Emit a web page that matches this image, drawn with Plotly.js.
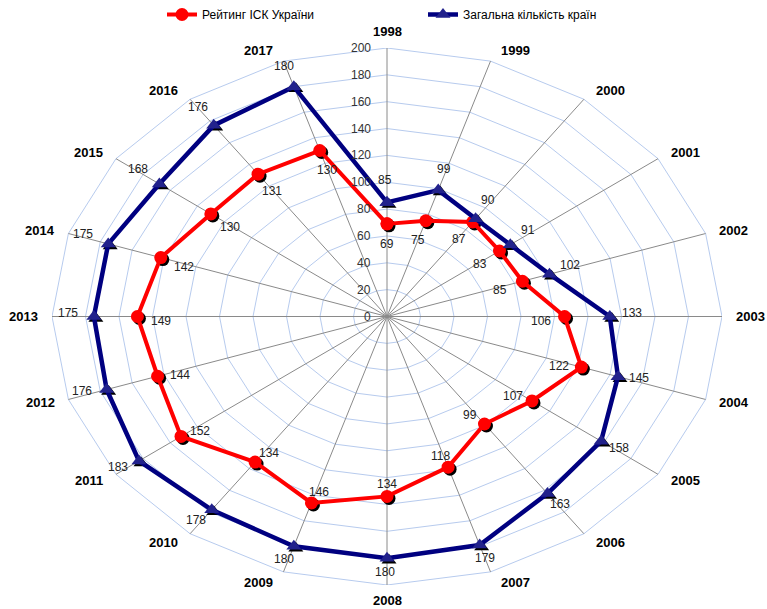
<!DOCTYPE html>
<html>
<head>
<meta charset="utf-8">
<script src="https://cdn.plot.ly/plotly-3.0.1.min.js"></script>
<style>html,body{margin:0;padding:0;background:#fff}</style>
</head>
<body>
<div id="chart" style="width:767px;height:609px"></div>
<script>
// Years around the radar (clockwise from the top)
const years = ['1998','1999','2000','2001','2002','2003','2004','2005','2006','2007',
               '2008','2009','2010','2011','2012','2013','2014','2015','2016','2017'];
// Ukraine's position in the index
const ratingUkraine = [69,75,87,83,85,106,122,107,99,118,134,146,134,152,144,149,142,130,131,130];
// Total number of countries ranked
const totalCountries = [85,99,90,91,102,133,145,158,163,179,180,180,178,183,176,175,175,168,176,180];
// Radial scale
const radialTicks = [0,20,40,60,80,100,120,140,160,180,200];
const seriesNames = ['Рейтинг ІСК України','Загальна кількість країн'];

const N = years.length;
const RMAX = radialTicks[radialTicks.length - 1];
const ang = i => i * 2 * Math.PI / N;
const px = (v, i) => v * Math.sin(ang(i));
const py = (v, i) => v * Math.cos(ang(i));

const FONT = 'Liberation Sans, Arial, sans-serif';

// Polygonal grid rings
const gx = [], gy = [];
radialTicks.slice(1).forEach(t => {
  for (let i = 0; i <= N; i++) { gx.push(px(t, i % N)); gy.push(py(t, i % N)); }
  gx.push(null); gy.push(null);
});
// Spokes
const sx = [], sy = [];
for (let i = 0; i < N; i++) { sx.push(0, px(RMAX, i), null); sy.push(0, py(RMAX, i), null); }

const closed = arr => arr.concat([arr[0]]);
const xsOf = vals => closed(vals.map((v, i) => px(v, i)));
const ysOf = vals => closed(vals.map((v, i) => py(v, i)));

const traces = [
  {x: gx, y: gy, xaxis: 'x', yaxis: 'y', mode: 'lines', line: {color: '#b7cbee', width: 1},
   hoverinfo: 'skip', showlegend: false},
  {x: sx, y: sy, xaxis: 'x', yaxis: 'y', mode: 'lines', line: {color: '#8a8a8a', width: 1},
   hoverinfo: 'skip', showlegend: false},
  // marker shadows on a slightly offset pair of axes
  {x: ratingUkraine.map((v, i) => px(v, i)), y: ratingUkraine.map((v, i) => py(v, i)),
   xaxis: 'x2', yaxis: 'y2', mode: 'markers', marker: {symbol: 'circle', size: 13, color: '#000'},
   hoverinfo: 'skip', showlegend: false},
  {x: totalCountries.map((v, i) => px(v, i)), y: totalCountries.map((v, i) => py(v, i)),
   xaxis: 'x2', yaxis: 'y2', mode: 'markers', marker: {symbol: 'triangle-up', size: 13, color: '#000'},
   hoverinfo: 'skip', showlegend: false},
  {x: xsOf(ratingUkraine), y: ysOf(ratingUkraine), xaxis: 'x3', yaxis: 'y3', name: seriesNames[0],
   mode: 'lines+markers', line: {color: '#ff0000', width: 4},
   marker: {symbol: 'circle', size: 13, color: '#ff0000'}},
  {x: xsOf(totalCountries), y: ysOf(totalCountries), xaxis: 'x3', yaxis: 'y3', name: seriesNames[1],
   mode: 'lines+markers', line: {color: '#000080', width: 4.5},
   marker: {symbol: 'triangle-up', size: 13, color: '#22228c'}}
];

const annotations = [];
// Year labels outside the outer ring
years.forEach((yr, i) => {
  const s = Math.sin(ang(i)), c = Math.cos(ang(i));
  const side = Math.abs(s) > 0.1;
  annotations.push({
    x: px(RMAX, i), y: py(RMAX, i), xref: 'x', yref: 'y', text: '<b>' + yr + '</b>', showarrow: false,
    xanchor: s > 0.1 ? 'left' : (s < -0.1 ? 'right' : 'center'),
    yanchor: 'middle',
    xshift: side ? Math.sign(s) * (7 + 5 * Math.abs(s)) : 0,
    yshift: side ? 11 * c : (c > 0 ? 17 : -15),
    font: {family: FONT, size: 13, color: '#000'}
  });
});
// Radial scale labels along the first spoke
radialTicks.forEach(t => {
  annotations.push({
    x: 0, y: t, xref: 'x', yref: 'y', text: String(t), showarrow: false,
    xanchor: 'right', yanchor: 'middle', xshift: -14,
    font: {family: FONT, size: 12, color: '#333'}
  });
});
// Value labels: ratings inside, totals outside
ratingUkraine.forEach((v, i) => {
  const s = Math.sin(ang(i)), c = Math.cos(ang(i));
  annotations.push({
    x: px(v, i), y: py(v, i), xref: 'x', yref: 'y', text: String(v), showarrow: false,
    xanchor: 'center', yanchor: 'middle', xshift: -24 * s, yshift: -16 * c - 4,
    font: {family: FONT, size: 12, color: '#222'}
  });
});
totalCountries.forEach((v, i) => {
  const s = Math.sin(ang(i)), c = Math.cos(ang(i));
  annotations.push({
    x: px(v, i), y: py(v, i), xref: 'x', yref: 'y', text: String(v), showarrow: false,
    xanchor: 'center', yanchor: 'middle', xshift: 24 * s - 2, yshift: 18 * c + 4,
    font: {family: FONT, size: 12, color: '#222'}
  });
});

// plot area: 672 x 539, shadow axes offset by 2px right / 2px down
const W = 672, H = 539;
const hidden = {range: [-RMAX, RMAX], visible: false, fixedrange: true};
const layout = {
  width: 767, height: 609,
  margin: {l: 52, r: 43, t: 48, b: 22},
  paper_bgcolor: '#fff', plot_bgcolor: 'rgba(0,0,0,0)',
  font: {family: FONT},
  xaxis:  Object.assign({}, hidden, {domain: [0, (W - 2) / W], anchor: 'y'}),
  yaxis:  Object.assign({}, hidden, {domain: [2 / H, 1], anchor: 'x'}),
  xaxis2: Object.assign({}, hidden, {domain: [2 / W, 1], anchor: 'y2'}),
  yaxis2: Object.assign({}, hidden, {domain: [0, (H - 2) / H], anchor: 'x2'}),
  xaxis3: Object.assign({}, hidden, {domain: [0, (W - 2) / W], anchor: 'y3'}),
  yaxis3: Object.assign({}, hidden, {domain: [2 / H, 1], anchor: 'x3'}),
  showlegend: true,
  legend: {
    orientation: 'h', xref: 'container', yref: 'container',
    x: 162 / 767, y: 1, xanchor: 'left', yanchor: 'top',
    entrywidth: 216, entrywidthmode: 'pixels',
    font: {family: FONT, size: 12, color: '#000'}, bgcolor: 'rgba(0,0,0,0)'
  },
  annotations: annotations
};

Plotly.newPlot('chart', traces, layout, {staticPlot: true, displayModeBar: false});
</script>
</body>
</html>
